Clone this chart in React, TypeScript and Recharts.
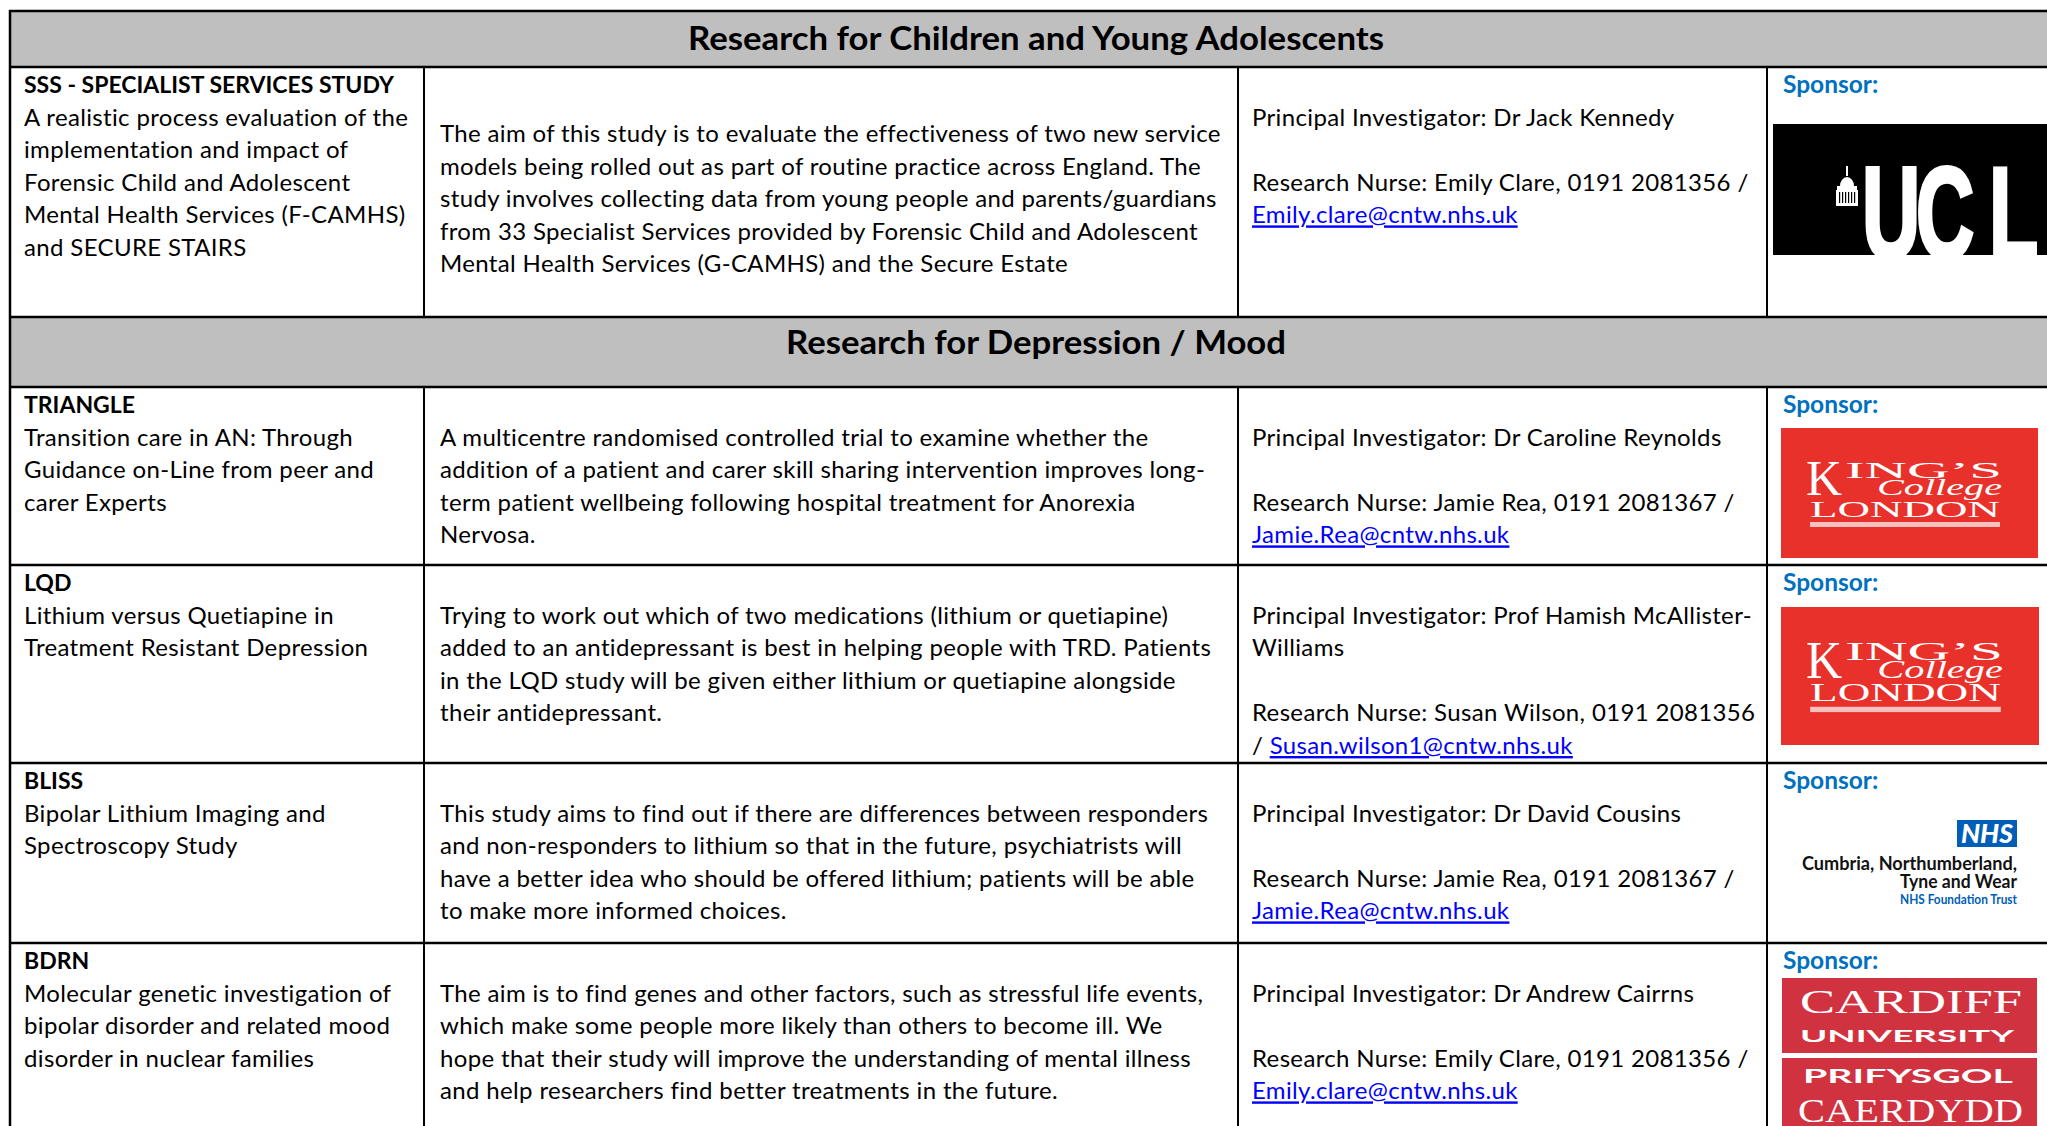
import React from 'react'
import { Surface, Layer, Rectangle } from 'recharts'

// ---- table content ----
const sectionTitles = ['Research for Children and Young Adolescents', 'Research for Depression / Mood']

const studyCodes = ['SSS - SPECIALIST SERVICES STUDY', 'TRIANGLE', 'LQD', 'BLISS', 'BDRN']

const studyTitles = [
  ['A realistic process evaluation of the', 'implementation and impact of', 'Forensic Child and Adolescent', 'Mental Health Services (F-CAMHS)', 'and SECURE STAIRS'],
  ['Transition care in AN: Through', 'Guidance on-Line from peer and', 'carer Experts'],
  ['Lithium versus Quetiapine in', 'Treatment Resistant Depression'],
  ['Bipolar Lithium Imaging and', 'Spectroscopy Study'],
  ['Molecular genetic investigation of', 'bipolar disorder and related mood', 'disorder in nuclear families'],
]

const studyAims = [
  [
    'The aim of this study is to evaluate the effectiveness of two new service',
    'models being rolled out as part of routine practice across England. The',
    'study involves collecting data from young people and parents/guardians',
    'from 33 Specialist Services provided by Forensic Child and Adolescent',
    'Mental Health Services (G-CAMHS) and the Secure Estate',
  ],
  [
    'A multicentre randomised controlled trial to examine whether the',
    'addition of a patient and carer skill sharing intervention improves long-',
    'term patient wellbeing following hospital treatment for Anorexia',
    'Nervosa.',
  ],
  [
    'Trying to work out which of two medications (lithium or quetiapine)',
    'added to an antidepressant is best in helping people with TRD.  Patients',
    'in the LQD study will be given either lithium or quetiapine alongside',
    'their antidepressant.',
  ],
  [
    'This study aims to find out if there are differences between responders',
    'and non-responders to lithium so that in the future, psychiatrists will',
    'have a better idea who should be offered lithium; patients will be able',
    'to make more informed choices.',
  ],
  [
    'The aim is to find genes and other factors, such as stressful life events,',
    'which make some people more likely than others to become ill.  We',
    'hope that their study will improve the understanding of mental illness',
    'and help researchers find better treatments in the future.',
  ],
]

const contactLines = [
  ['Principal Investigator: Dr Jack Kennedy', '', 'Research Nurse: Emily Clare, 0191 2081356 /'],
  ['Principal Investigator: Dr Caroline Reynolds', '', 'Research Nurse: Jamie Rea, 0191 2081367 /'],
  ['Principal Investigator: Prof Hamish McAllister-', 'Williams', '', 'Research Nurse: Susan Wilson, 0191 2081356'],
  ['Principal Investigator: Dr David Cousins', '', 'Research Nurse: Jamie Rea, 0191 2081367 /'],
  ['Principal Investigator: Dr Andrew Cairrns', '', 'Research Nurse: Emily Clare, 0191 2081356 /'],
]

const emailPrefixes = ['', '', '/ ', '', '']
const nurseEmails = [
  'Emily.clare@cntw.nhs.uk',
  'Jamie.Rea@cntw.nhs.uk',
  'Susan.wilson1@cntw.nhs.uk',
  'Jamie.Rea@cntw.nhs.uk',
  'Emily.clare@cntw.nhs.uk',
]

const sponsorLabel = 'Sponsor:'
const sponsorLogos = ['UCL', 'KINGS', 'KINGS', 'CNTW', 'CARDIFF']

// ---- layout ----
const W = 2047
const H = 1126
const LEFT = 10
const RIGHT = 2080
const COLS = [10, 424, 1238, 1767]
const TEXT_X = [24, 440, 1252, 1783]
const LH = 32.6
const sectionRows = [
  { top: 11, bottom: 67, baseline: 50 },
  { top: 317, bottom: 387, baseline: 354 },
]
const studyRows = [
  { top: 67, bottom: 317, aimStart: 1.5 },
  { top: 387, bottom: 565, aimStart: 1 },
  { top: 565, bottom: 763, aimStart: 1 },
  { top: 763, bottom: 943, aimStart: 1 },
  { top: 943, bottom: 1200, aimStart: 1 },
]
const logoBoxes = [
  { x: 1773, y: 124, w: 300, h: 131 },
  { x: 1781, y: 428, w: 257, h: 130 },
  { x: 1781, y: 607, w: 258, h: 138 },
  { x: 1790, y: 800, w: 235, h: 115 },
  { x: 1782, y: 978, w: 255, h: 160 },
]

const FONT = 'Lato, "Open Sans", sans-serif'
const FS = 24
const SERIF = '"Liberation Serif", "DejaVu Serif", serif'

const UclLogo = ({ x, y, w, h }: { x: number; y: number; w: number; h: number }) => (
  <Layer>
    <defs>
      <clipPath id="ucl-clip">
        <rect x={x} y={y} width={w} height={h} />
      </clipPath>
    </defs>
    <Rectangle x={x} y={y} width={w} height={h} fill="#000" />
    <g clipPath="url(#ucl-clip)">
      {/* dome */}
      <rect x={1846} y={166} width={2} height={10} fill="#fff" />
      <path d="M1840,186 A7,9 0 0 1 1854,186 Z" fill="#fff" />
      <rect x={1837} y={186} width={20} height={4} fill="#fff" />
      <rect x={1836} y={190} width={22} height={16} fill="#fff" />
      {[1839, 1842, 1845, 1848, 1851, 1854].map((cx) => (
        <rect key={cx} x={cx} y={192} width={1.2} height={11} fill="#000" />
      ))}
      {[
        { c: 'U', lx: 1862 },
        { c: 'C', lx: 1916 },
        { c: 'L', lx: 1989 },
      ].map((l) => (
        <text
          key={l.c}
          transform={`translate(${l.lx},258) scale(0.62,1)`}
          fontFamily='"Liberation Sans", Arial, sans-serif'
          fontWeight={700}
          fontSize={130}
          fill="#fff"
          stroke="#fff"
          strokeWidth={4}
        >
          {l.c}
        </text>
      ))}
    </g>
  </Layer>
)

const KingsLogo = ({ x, y, w, h }: { x: number; y: number; w: number; h: number }) => (
  <g transform={`translate(${x},${y}) scale(${w / 257},${h / 130})`}>
    <rect x={0} y={0} width={257} height={130} fill="#E8312A" />
    <text x={25} y={67} fontFamily={SERIF} fontSize={50} fill="#fff" textLength={36} lengthAdjust="spacingAndGlyphs">K</text>
    <text x={64} y={50} fontFamily={SERIF} fontSize={23} fill="#fff" textLength={157} lengthAdjust="spacingAndGlyphs">ING’S</text>
    <text x={96} y={67} fontFamily={SERIF} fontStyle="italic" fontSize={24} fill="#fff" textLength={125} lengthAdjust="spacingAndGlyphs">College</text>
    <text x={29} y={89} fontFamily={SERIF} fontSize={23} fill="#fff" textLength={190} lengthAdjust="spacingAndGlyphs">LONDON</text>
    <rect x={29} y={94} width={190} height={5} fill="#fff" fillOpacity={0.7} />
  </g>
)

const CntwLogo = () => (
  <Layer>
    <Rectangle x={1957} y={820} width={60} height={27} fill="#005EB8" />
    <text x={1987} y={843} textAnchor="middle" fontFamily={FONT} fontWeight={900} fontStyle="italic" fontSize={26} fill="#fff" textLength={52} lengthAdjust="spacingAndGlyphs">NHS</text>
    <text x={2017} y={870} textAnchor="end" fontFamily={FONT} fontWeight={700} fontSize={19} fill="#111" textLength={215} lengthAdjust="spacingAndGlyphs">Cumbria, Northumberland,</text>
    <text x={2017} y={888} textAnchor="end" fontFamily={FONT} fontWeight={700} fontSize={19} fill="#111" textLength={117} lengthAdjust="spacingAndGlyphs">Tyne and Wear</text>
    <text x={2017} y={904} textAnchor="end" fontFamily={FONT} fontWeight={700} fontSize={13} fill="#005EB8" textLength={117} lengthAdjust="spacingAndGlyphs">NHS Foundation Trust</text>
  </Layer>
)

const CardiffLogo = ({ x, y }: { x: number; y: number }) => (
  <g transform={`translate(${x},${y})`}>
    <rect x={0} y={0} width={255} height={75} fill="#D1323F" />
    <rect x={0} y={80} width={255} height={90} fill="#D1323F" />
    <text x={18} y={35} fontFamily={SERIF} fontSize={34} fill="#fff" textLength={222} lengthAdjust="spacingAndGlyphs">CARDIFF</text>
    <text x={18} y={64} fontFamily={FONT} fontWeight={700} fontSize={17} fill="#fff" textLength={214} lengthAdjust="spacingAndGlyphs">UNIVERSITY</text>
    <text x={21} y={105} fontFamily={FONT} fontWeight={700} fontSize={18} fill="#fff" textLength={210} lengthAdjust="spacingAndGlyphs">PRIFYSGOL</text>
    <text x={16} y={144} fontFamily={SERIF} fontSize={33} fill="#fff" textLength={225} lengthAdjust="spacingAndGlyphs">CAERDYDD</text>
  </g>
)

const Line = ({ x, y, children, bold, color, size }: { x: number; y: number; children: React.ReactNode; bold?: boolean; color?: string; size?: number }) => (
  <text
    x={x}
    y={y}
    fontFamily={FONT}
    fontSize={size || FS}
    fontWeight={bold ? 700 : 400}
    letterSpacing={size ? 0 : 0.35}
    fill={color || '#000'}
  >
    {children}
  </text>
)

const App: React.FC = () => {
  const tableBottom = H + 20
  return (
    <div style={{ position: 'fixed', left: 0, top: 0, width: W, height: H, background: '#fff' }}>
      <Surface width={W} height={H} viewBox={{ x: 0, y: 0, width: W, height: H }}>
        {/* section header bands */}
        {sectionRows.map((s, i) => (
          <Layer key={`sec-${i}`}>
            <Rectangle x={LEFT} y={s.top} width={RIGHT - LEFT} height={s.bottom - s.top} fill="#BFBFBF" />
            <text
              x={1036}
              y={s.baseline}
              textAnchor="middle"
              fontFamily={FONT}
              fontWeight={700}
              fontSize={32}
              fill="#000"
              textLength={i === 0 ? 696 : 500}
              lengthAdjust="spacingAndGlyphs"
            >
              {sectionTitles[i]}
            </text>
          </Layer>
        ))}

        {/* study rows */}
        {studyRows.map((r, i) => {
          const b0 = r.top + 26
          const contacts = contactLines[i]
          return (
            <Layer key={`row-${i}`}>
              <Line x={TEXT_X[0]} y={b0} bold size={23}>{studyCodes[i]}</Line>
              {studyTitles[i].map((t, k) => (
                <Line key={k} x={TEXT_X[0]} y={b0 + (k + 1) * LH}>{t}</Line>
              ))}
              {studyAims[i].map((t, k) => (
                <Line key={k} x={TEXT_X[1]} y={b0 + (k + r.aimStart) * LH}>{t}</Line>
              ))}
              {contacts.map((t, k) => (
                <Line key={k} x={TEXT_X[2]} y={b0 + (k + 1) * LH}>{t}</Line>
              ))}
              <text x={TEXT_X[2]} y={b0 + (contacts.length + 1) * LH} fontFamily={FONT} fontSize={FS} letterSpacing={0.35}>
                <tspan fill="#000">{emailPrefixes[i]}</tspan>
                <tspan fill="#0000FF" style={{ textDecoration: 'underline' }}>{nurseEmails[i]}</tspan>
              </text>
              <Line x={TEXT_X[3]} y={b0} bold color="#0070C0" size={24.5}>{sponsorLabel}</Line>
            </Layer>
          )
        })}

        {/* grid lines */}
        <Layer>
          {[11, 67, 317, 387, 565, 763, 943].map((y) => (
            <line key={`h-${y}`} x1={LEFT - 1} x2={RIGHT} y1={y} y2={y} stroke="#000" strokeWidth={2.5} />
          ))}
          <line x1={LEFT} x2={LEFT} y1={10} y2={tableBottom} stroke="#000" strokeWidth={2.5} />
          {COLS.slice(1).map((x) => (
            <Layer key={`v-${x}`}>
              <line x1={x} x2={x} y1={67} y2={317} stroke="#000" strokeWidth={2} />
              <line x1={x} x2={x} y1={387} y2={tableBottom} stroke="#000" strokeWidth={2} />
            </Layer>
          ))}
        </Layer>

        {/* sponsor logos */}
        {sponsorLogos.map((lg, i) => {
          const b = logoBoxes[i]
          if (lg === 'UCL') return <UclLogo key={i} {...b} />
          if (lg === 'KINGS') return <KingsLogo key={i} {...b} />
          if (lg === 'CNTW') return <CntwLogo key={i} />
          return <CardiffLogo key={i} x={b.x} y={b.y} />
        })}
      </Surface>
    </div>
  )
}

export default App
